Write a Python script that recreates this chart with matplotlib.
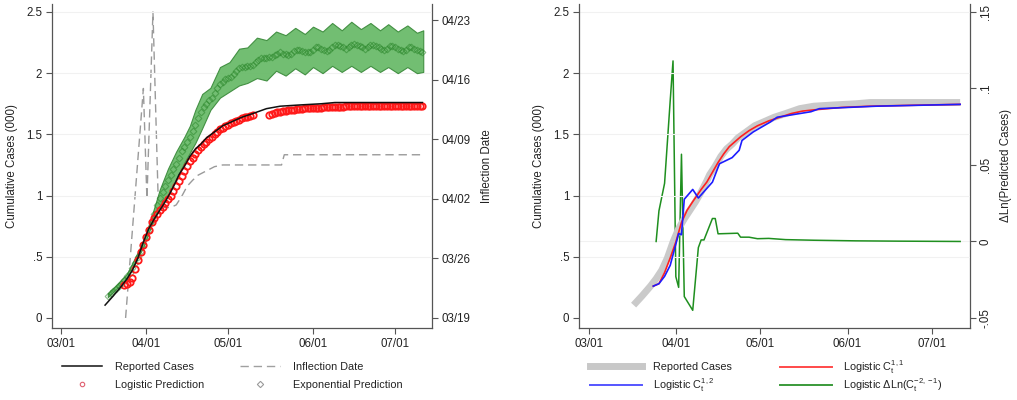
import datetime as dt
import numpy as np
import matplotlib
matplotlib.use("Agg")
import matplotlib.pyplot as plt
from matplotlib.lines import Line2D

plt.rcParams["font.family"] = ["Liberation Sans", "DejaVu Sans"]
plt.rcParams["mathtext.fontset"] = "custom"
plt.rcParams["mathtext.rm"] = "Liberation Sans"
plt.rcParams["mathtext.it"] = "Liberation Sans"

# x values are days since 03/01/2020
BASE = dt.date(2020, 3, 1)
INFL_BASE = dt.date(2020, 3, 19)

# reported cumulative cases (000)
rep_days = [16, 19, 22, 24, 26, 28, 30, 32, 34, 36, 38, 40, 42, 43, 45, 47, 49, 51, 53,
            56, 59, 62, 66, 70, 75, 80, 87, 95, 100, 110, 120, 132]
rep_vals = [0.105, 0.18, 0.26, 0.32, 0.39, 0.49, 0.62, 0.73, 0.81, 0.88, 0.95, 1.03, 1.12,
            1.17, 1.24, 1.32, 1.38, 1.42, 1.47, 1.52, 1.57, 1.60, 1.64, 1.67, 1.71, 1.73,
            1.74, 1.75, 1.76, 1.76, 1.76, 1.76]

# logistic prediction, daily (two runs, gap in between)
logit_start_a = 23
logit_vals_a = [0.27, 0.28, 0.29, 0.33, 0.40, 0.47, 0.54, 0.60, 0.66, 0.72, 0.78, 0.82,
                0.85, 0.88, 0.91, 0.94, 0.97, 1.00, 1.04, 1.08, 1.12, 1.16, 1.20, 1.24,
                1.28, 1.31, 1.34, 1.37, 1.40, 1.42, 1.44, 1.46, 1.48, 1.50, 1.52, 1.54,
                1.55, 1.57, 1.58, 1.59, 1.60, 1.61, 1.62, 1.63, 1.64, 1.645, 1.65, 1.66]
logit_start_b = 76
logit_vals_b = [1.66, 1.67, 1.675, 1.68, 1.685, 1.69, 1.69, 1.695, 1.70, 1.70, 1.705, 1.71,
                1.71, 1.712, 1.714, 1.715, 1.716, 1.717, 1.718, 1.719, 1.72, 1.721, 1.722,
                1.723, 1.724, 1.725, 1.726, 1.727, 1.728, 1.729, 1.73, 1.73, 1.73, 1.73,
                1.731, 1.731, 1.732, 1.732, 1.733, 1.733, 1.734, 1.734, 1.735, 1.735,
                1.735, 1.735, 1.735, 1.735, 1.735, 1.735, 1.735, 1.735, 1.735, 1.735,
                1.735, 1.735, 1.735]

# exponential prediction, daily
expo_start = 17
expo_vals = [0.18, 0.20, 0.22, 0.24, 0.26, 0.28, 0.31, 0.34, 0.37, 0.41, 0.45, 0.50, 0.55,
             0.60, 0.66, 0.72, 0.79, 0.85, 0.92, 0.98, 1.03, 1.08, 1.13, 1.17, 1.22, 1.26,
             1.31, 1.36, 1.40, 1.44, 1.48, 1.53, 1.58, 1.63, 1.68, 1.72, 1.75, 1.78, 1.80,
             1.84, 1.88, 1.91, 1.93, 1.95, 1.96, 1.97, 1.99, 2.02, 2.04, 2.05, 2.05, 2.06,
             2.06, 2.07, 2.09, 2.11, 2.12, 2.12, 2.12, 2.13, 2.13, 2.15, 2.16, 2.17, 2.16,
             2.16, 2.15, 2.16, 2.18, 2.19, 2.19, 2.18, 2.17, 2.17, 2.17, 2.19, 2.21, 2.21,
             2.20, 2.19, 2.18, 2.19, 2.21, 2.23, 2.23, 2.22, 2.21, 2.20, 2.21, 2.23, 2.24,
             2.23, 2.22, 2.21, 2.20, 2.21, 2.23, 2.23, 2.22, 2.21, 2.20, 2.19, 2.20, 2.22,
             2.22, 2.21, 2.20, 2.19, 2.18, 2.19, 2.21, 2.21, 2.20, 2.19, 2.18, 2.17]

# exponential prediction interval
band_days = [17, 24, 30, 33, 36, 39, 42, 45, 47, 49, 51.5, 54.5, 58, 61.5, 65, 68, 71.5,
             75, 78.5, 82, 85.5, 89, 92, 95.5, 99, 102.5, 106, 109.5, 113, 116.5, 119.5,
             123, 126.5, 130, 132.3]
band_hi = [0.20, 0.36, 0.63, 0.83, 1.05, 1.22, 1.36, 1.48, 1.57, 1.70, 1.83, 1.88, 2.05,
           2.09, 2.20, 2.21, 2.29, 2.27, 2.34, 2.31, 2.37, 2.32, 2.38, 2.34, 2.41, 2.35,
           2.42, 2.36, 2.41, 2.35, 2.40, 2.34, 2.39, 2.33, 2.35]
band_lo = [0.17, 0.32, 0.58, 0.76, 0.91, 1.00, 1.13, 1.27, 1.35, 1.43, 1.55, 1.70, 1.80,
           1.85, 1.90, 1.92, 1.96, 1.94, 2.02, 1.98, 2.04, 1.99, 2.05, 2.00, 2.06, 2.01,
           2.06, 2.01, 2.06, 2.01, 2.05, 2.00, 2.05, 2.00, 2.01]

# inflection date (days after 03/19)
infl_days = [23.5, 30, 31.3, 33.5, 35.5, 40, 42, 44, 46, 48, 50, 53, 56, 59, 62, 80.5,
             81.5, 132]
infl_vals = [0, 27, 14, 36, 13, 13, 13.3, 14.3, 15.5, 16.2, 16.8, 17.3, 17.8, 18, 18, 18,
             19.2, 19.2]

# right panel: logistic fits
c11_days = [23, 25, 27, 29, 30, 31, 33, 35, 37, 40, 42, 44, 46, 48, 50, 52, 54, 57, 60,
            64, 68, 72, 76, 80, 85, 90, 100, 110, 120, 132]
c11_vals = [0.26, 0.28, 0.37, 0.49, 0.555, 0.62, 0.78, 0.88, 0.95, 1.05, 1.11, 1.19, 1.27,
            1.34, 1.40, 1.44, 1.48, 1.53, 1.57, 1.61, 1.64, 1.67, 1.69, 1.70, 1.71, 1.72,
            1.73, 1.735, 1.74, 1.745]
c12_days = [23, 25, 27, 29, 30.5, 32, 33, 34, 37, 39, 44, 45.5, 46.5, 51, 53.5, 54.5, 58.5,
            64.5, 67, 75, 79, 82, 102, 132]
c12_vals = [0.26, 0.28, 0.34, 0.43, 0.56, 0.69, 0.68, 0.97, 1.05, 0.98, 1.11, 1.20, 1.26,
            1.31, 1.37, 1.45, 1.52, 1.60, 1.64, 1.67, 1.685, 1.71, 1.73, 1.745]
dln_days = [24, 25, 26, 27, 28, 29, 30, 31, 32, 33, 34, 37, 39, 40, 41, 44, 45, 46, 53,
            54, 57, 60, 64, 70, 80, 95, 110, 132]
dln_vals = [0.0, 0.02, 0.029, 0.038, 0.065, 0.092, 0.118, -0.023, -0.030, 0.057, -0.036,
            -0.045, -0.004, 0.001, 0.001, 0.015, 0.015, 0.005, 0.0054, 0.0028, 0.0028,
            0.0018, 0.002, 0.0012, 0.0008, 0.0004, 0.0002, 0.0]

month_ticks = [(dt.date(2020, m, 1) - BASE).days for m in range(3, 8)]
month_labels = [dt.date(2020, m, 1).strftime("%m/%d") for m in range(3, 8)]
infl_ticks = list(range(0, 36, 7))
infl_labels = [(INFL_BASE + dt.timedelta(days=d)).strftime("%m/%d") for d in infl_ticks]

TXT = "#222222"
SPINE = "#555555"
XLIM = (-3.4, 135.5)
YLIM = (-0.082, 2.565)
W, H = 1017, 400


def style_axes(ax):
    ax.set_xlim(*XLIM)
    ax.set_ylim(*YLIM)
    ax.set_xticks(month_ticks)
    ax.set_xticklabels(month_labels)
    ax.set_yticks([0, 0.5, 1, 1.5, 2, 2.5])
    ax.set_yticklabels(["0", ".5", "1", "1.5", "2", "2.5"])
    ax.tick_params(direction="out", length=4, width=0.8, color=SPINE, labelsize=8.3,
                   labelcolor=TXT, pad=3)
    for s in ["top", "right"]:
        ax.spines[s].set_visible(False)
    for s in ["left", "bottom"]:
        ax.spines[s].set_color(SPINE)
        ax.spines[s].set_linewidth(0.9)
    for y in [0.5, 1, 1.5, 2, 2.5]:
        ax.axhline(y, color="#f1f1f1", lw=0.8, zorder=0)
    ax.set_ylabel("Cumulative Cases (000)", fontsize=8.3, color=TXT, labelpad=6)


def style_twin(ax2):
    for s in ["top", "left", "bottom"]:
        ax2.spines[s].set_visible(False)
    ax2.spines["right"].set_color(SPINE)
    ax2.spines["right"].set_linewidth(0.9)
    ax2.tick_params(direction="out", length=4, width=0.8, color=SPINE, labelsize=8.3,
                    labelcolor=TXT, pad=3)


def legend_entry(fig, handle, label, x, y, hlen, pad):
    # one legend entry, handle's left edge at pixel x, row centred at pixel y
    leg = fig.legend([handle], [label], loc="center left",
                     bbox_to_anchor=(x / W, 1 - y / H), frameon=False, fontsize=7.8,
                     handlelength=hlen, handletextpad=pad, borderpad=0,
                     borderaxespad=0, labelcolor=TXT)
    return leg


fig = plt.figure(figsize=(W / 100, H / 100), dpi=100)
ax = fig.add_axes([52 / W, 72 / H, 380 / W, 324 / H])
axr = fig.add_axes([579 / W, 72 / H, 391 / W, 324 / H])

# ---- left panel
style_axes(ax)
ax.set_zorder(2)
ax.patch.set_visible(False)
ax2 = ax.twinx()
ax2.set_zorder(1)
style_twin(ax2)
ax2.set_ylim(YLIM[0] * 14.4, YLIM[1] * 14.4)
ax2.set_yticks(infl_ticks)
ax2.set_yticklabels(infl_labels)
ax2.set_ylabel("Inflection Date", fontsize=8.3, color=TXT, labelpad=7)
ax2.plot(infl_days, infl_vals, color="#9a9a9a", lw=1.0, dashes=(6, 3.5))

ax.fill_between(band_days, band_lo, band_hi, facecolor="#6abb6a", edgecolor="#3d8c3d",
                lw=0.8, alpha=0.95, zorder=2)
expo_days = np.arange(len(expo_vals)) + expo_start
ax.plot(expo_days, expo_vals, ls="none", marker="D", ms=3.4, mfc="none", mec="#2a862a",
        mew=0.8, alpha=0.55, zorder=3)
ax.plot(np.arange(len(logit_vals_a)) + logit_start_a, logit_vals_a, ls="none", marker="o",
        ms=4.6, mfc="none", mec="#ff1a1a", mew=1.3, zorder=4)
ax.plot(np.arange(len(logit_vals_b)) + logit_start_b, logit_vals_b, ls="none", marker="o",
        ms=4.6, mfc="none", mec="#ff1a1a", mew=1.3, zorder=4)
ax.plot(rep_days, rep_vals, color="#111111", lw=1.1, zorder=5)

legend_entry(fig, Line2D([], [], color="#111111", lw=1.1), "Reported Cases",
             62, 367, 3.7, 1.2)
legend_entry(fig, Line2D([], [], color="#a0a0a0", lw=1.0, dashes=(6, 3.5)),
             "Inflection Date", 240, 367, 3.7, 1.2)
legend_entry(fig, Line2D([], [], ls="none", marker="o", ms=3.2, mfc="none", mec="#e06070",
                         mew=0.8), "Logistic Prediction", 62, 385, 3.7, 1.2)
legend_entry(fig, Line2D([], [], ls="none", marker="D", ms=3.2, mfc="none", mec="#9a9a9a",
                         mew=0.8), "Exponential Prediction", 240, 385, 3.7, 1.2)

# ---- right panel
style_axes(axr)
axr.set_zorder(2)
axr.patch.set_visible(False)
axr2 = axr.twinx()
axr2.set_zorder(1)
style_twin(axr2)
axr2.set_ylim(-0.05 + YLIM[0] * 0.08, -0.05 + YLIM[1] * 0.08)
axr2.set_yticks([-0.05, 0, 0.05, 0.1, 0.15])
axr2.set_yticklabels(["-.05", "0", ".05", ".1", ".15"], rotation=90, va="center")
axr2.set_ylabel("\u0394Ln(Predicted Cases)", fontsize=8.3, color=TXT, labelpad=6)
axr2.axhline(0, color="#f1f1f1", lw=0.8, zorder=0)

axr.plot(rep_days, rep_vals, color="#cacaca", lw=5, solid_capstyle="butt", zorder=2)
axr.plot(c11_days, c11_vals, color="#ff2020", lw=1.2, zorder=3)
axr.plot(c12_days, c12_vals, color="#1c1cff", lw=1.2, zorder=4)
axr2.plot(dln_days, dln_vals, color="#1f8f1f", lw=1.1)

legend_entry(fig, Line2D([], [], color="#c8c8c8", lw=5), "Reported Cases",
             590, 367, 4.8, 1.0)
legend_entry(fig, Line2D([], [], color="#ff4a4a", lw=1.4),
             r"Logistic C$_\mathrm{t}^\mathrm{1,1}$", 780, 367, 4.8, 1.0)
legend_entry(fig, Line2D([], [], color="#5555ff", lw=1.4),
             r"Logistic C$_\mathrm{t}^\mathrm{1,2}$", 590, 385, 4.8, 1.0)
legend_entry(fig, Line2D([], [], color="#3a9a3a", lw=1.4),
             "Logistic \u0394Ln(C" + r"$_\mathrm{t}^\mathrm{-2,-1}$" + ")", 780, 385, 4.8, 1.0)

fig.savefig("out.png", dpi=100, facecolor="white")
